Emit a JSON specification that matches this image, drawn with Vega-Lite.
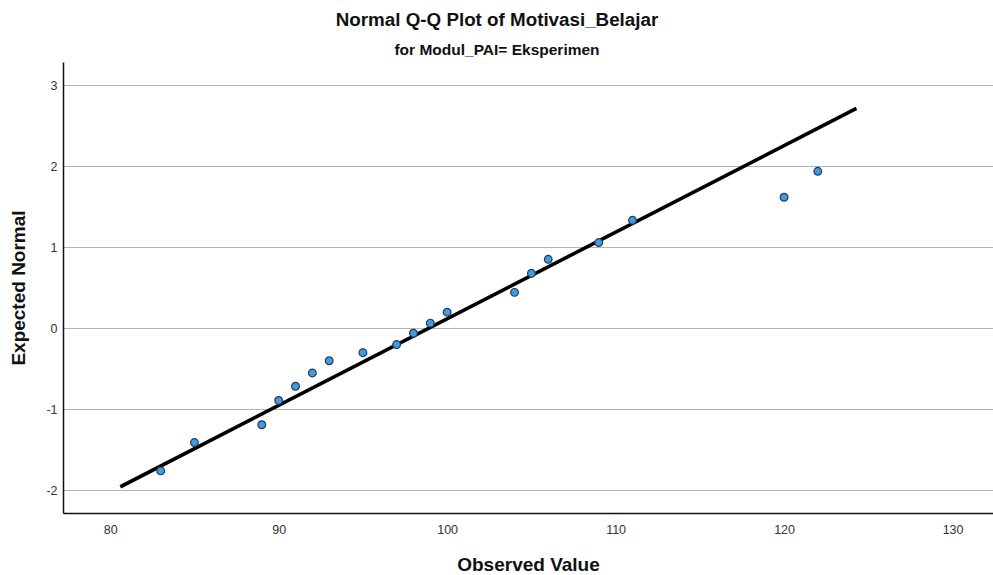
{
  "$schema": "https://vega.github.io/schema/vega-lite/v6.json",
  "width": 930,
  "height": 451,
  "autosize": {"type": "none"},
  "padding": {"left": 63, "top": 62, "right": 0, "bottom": 62},
  "background": "white",
  "title": {
    "text": "Normal Q-Q Plot of Motivasi_Belajar",
    "subtitle": "for Modul_PAI= Eksperimen",
    "anchor": "middle",
    "frame": "group",
    "dx": -31,
    "offset": 4,
    "font": "Liberation Sans",
    "fontSize": 18.8,
    "fontWeight": "bold",
    "color": "#111",
    "subtitleFont": "Liberation Sans",
    "subtitleFontSize": 15.5,
    "subtitleFontWeight": "bold",
    "subtitleColor": "#111",
    "subtitlePadding": 13
  },
  "config": {
    "view": {"stroke": null},
    "axis": {
      "labelFont": "Liberation Sans",
      "labelFontSize": 12.5,
      "labelColor": "#333",
      "titleFont": "Liberation Sans",
      "titleFontSize": 19,
      "titleFontWeight": "bold",
      "titleColor": "#111",
      "domainColor": "#111",
      "domainWidth": 1.5,
      "ticks": false
    }
  },
  "datasets": {
    "pts": [
      {"obs": 83, "exp": -1.76},
      {"obs": 85, "exp": -1.41},
      {"obs": 89, "exp": -1.19},
      {"obs": 90, "exp": -0.89},
      {"obs": 91, "exp": -0.715},
      {"obs": 92, "exp": -0.55},
      {"obs": 93, "exp": -0.40},
      {"obs": 95, "exp": -0.30},
      {"obs": 97, "exp": -0.20},
      {"obs": 98, "exp": -0.06},
      {"obs": 99, "exp": 0.065},
      {"obs": 100, "exp": 0.20},
      {"obs": 104, "exp": 0.445},
      {"obs": 105, "exp": 0.68},
      {"obs": 106, "exp": 0.853},
      {"obs": 109, "exp": 1.06},
      {"obs": 111, "exp": 1.335},
      {"obs": 120, "exp": 1.62},
      {"obs": 122, "exp": 1.94}
    ],
    "ref": [
      {"obs": 80.7, "exp": -1.946},
      {"obs": 124.2, "exp": 2.707}
    ]
  },
  "layer": [
    {
      "data": {"name": "ref"},
      "mark": {"type": "line", "color": "#000", "strokeWidth": 3.6, "strokeCap": "square"},
      "encoding": {
        "x": {
          "field": "obs", "type": "quantitative",
          "scale": {"domain": [77.2, 132.4], "nice": false, "zero": false},
          "axis": {"values": [80, 90, 100, 110, 120, 130], "grid": false, "title": "Observed Value", "labelPadding": 10, "titlePadding": 20}
        },
        "y": {
          "field": "exp", "type": "quantitative",
          "scale": {"domain": [-2.28, 3.29], "nice": false, "zero": false},
          "axis": {"values": [-2, -1, 0, 1, 2, 3], "labelExpr": "toString(datum.value)", "grid": true, "gridColor": "#b4b4b4", "gridWidth": 1, "title": "Expected Normal", "labelPadding": 6, "titlePadding": 17}
        }
      }
    },
    {
      "data": {"name": "pts"},
      "mark": {"type": "point", "filled": true, "fill": "#4799dc", "stroke": "#1d3f66", "strokeWidth": 1.2, "size": 60, "opacity": 1},
      "encoding": {
        "x": {"field": "obs", "type": "quantitative"},
        "y": {"field": "exp", "type": "quantitative"}
      }
    }
  ]
}
